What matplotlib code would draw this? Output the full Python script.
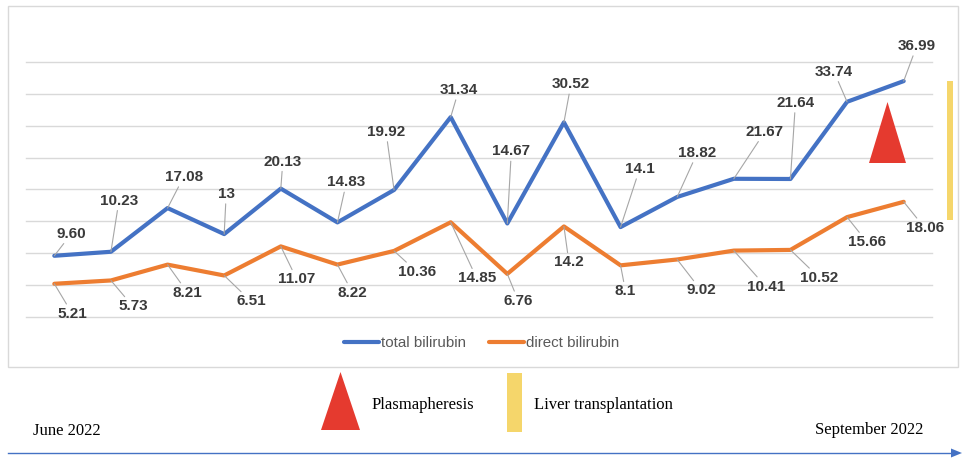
import matplotlib
matplotlib.use('Agg')
import matplotlib.pyplot as plt
from matplotlib.patches import Rectangle, Polygon

# values as printed on the chart (kept as text to keep the original formatting)
total_txt = ['9.60', '10.23', '17.08', '13', '20.13', '14.83', '19.92', '31.34',
             '14.67', '30.52', '14.1', '18.82', '21.67', '21.64', '33.74', '36.99']
direct_txt = ['5.21', '5.73', '8.21', '6.51', '11.07', '8.22', '10.36', '14.85',
              '6.76', '14.2', '8.1', '9.02', '10.41', '10.52', '15.66', '18.06']
total = [float(s) for s in total_txt]
direct = [float(s) for s in direct_txt]
series_names = ['total bilirubin', 'direct bilirubin']
start_label = 'June 2022'
end_label = 'September 2022'
event_names = ['Plasmapheresis', 'Liver transplantation']

# label offsets in pixels (dx, dy) from each point
total_off = [(17, 22), (8, 51), (16, 31), (2, 40), (2, 27), (9, 40), (-8, 58), (8, 27),
             (4, 72), (7, 38), (19, 58), (20, 44), (31, 47), (5, 76), (-13, 30), (13, 35)]
direct_off = [(18, -30), (22, -26), (20, -28), (27, -26), (16, -33), (15, -28), (23, -21), (26, -56),
              (11, -27), (5, -36), (5, -26), (24, -31), (32, -36), (29, -28), (20, -25), (21, -26)]

BLUE = '#4472C4'
ORANGE = '#ED7D31'
RED = '#E53A2F'
YELLOW = '#F5D66B'
W, H = 966, 466

def fx(px):
    return px / W

def fy(py):
    return 1 - py / H

fig = plt.figure(figsize=(9.66, 4.66), dpi=100)
ax = fig.add_axes([fx(26), fy(317), fx(932) - fx(26), fy(30) - fy(317)])

x = list(range(len(total)))
ax.set_xlim(-0.5, len(total) - 0.5)
ax.set_ylim(0, 45)
for g in range(0, 45, 5):
    ax.axhline(g, color='#D9D9D9', lw=1, zorder=0, clip_on=False)
for s in ax.spines.values():
    s.set_visible(False)
ax.set_xticks([])
ax.set_yticks([])
ax.patch.set_alpha(0)

ax.plot(x, total, color=BLUE, lw=3, solid_joinstyle='round', solid_capstyle='round',
        label=series_names[0], zorder=3)
ax.plot(x, direct, color=ORANGE, lw=3, solid_joinstyle='round', solid_capstyle='round',
        label=series_names[1], zorder=3)

for vals, txts, offs in [(total, total_txt, total_off), (direct, direct_txt, direct_off)]:
    for i, (v, t, o) in enumerate(zip(vals, txts, offs)):
        ax.annotate(t, (i, v), xytext=o, textcoords='offset pixels', ha='center', va='center',
                    fontsize=11, fontweight='bold', color='#3A3A3A', family='Liberation Sans',
                    arrowprops=dict(arrowstyle='-', color='#A6A6A6', lw=0.8, shrinkA=0, shrinkB=0),
                    zorder=4)

leg = ax.legend(loc='center', bbox_to_anchor=(0.503, -0.092), ncol=2, frameon=False,
                handlelength=2.3, handletextpad=0.15, columnspacing=1.5,
                prop={'family': 'Liberation Sans', 'size': 10.9})
for t in leg.get_texts():
    t.set_color('#595959')

# outer chart frame
fig.add_artist(Rectangle((fx(8), fy(367)), fx(958) - fx(8), fy(6) - fy(367),
                         transform=fig.transFigure, fill=False, edgecolor='#D9D9D9', lw=1))

# event markers inside the chart
fig.add_artist(Polygon([(fx(869), fy(163)), (fx(906), fy(163)), (fx(887.5), fy(102))],
                       closed=True, transform=fig.transFigure, facecolor=RED, edgecolor='none'))
fig.add_artist(Rectangle((fx(947), fy(220)), fx(953) - fx(947), fy(81) - fy(220),
                         transform=fig.transFigure, facecolor=YELLOW, edgecolor='none'))

# key below the chart
fig.add_artist(Polygon([(fx(321), fy(430)), (fx(360), fy(430)), (fx(340.5), fy(372))],
                       closed=True, transform=fig.transFigure, facecolor=RED, edgecolor='none'))
fig.text(fx(372), fy(405), event_names[0], family='Liberation Serif', fontsize=12,
         ha='left', va='center', color='black')
fig.add_artist(Rectangle((fx(507), fy(432)), fx(522) - fx(507), fy(373) - fy(432),
                         transform=fig.transFigure, facecolor=YELLOW, edgecolor='none'))
fig.text(fx(534), fy(405), event_names[1], family='Liberation Serif', fontsize=12,
         ha='left', va='center', color='black')

# time arrow
fig.text(fx(33), fy(431), start_label, family='Liberation Serif', fontsize=12,
         ha='left', va='center', color='black')
fig.text(fx(923), fy(430), end_label, family='Liberation Serif', fontsize=12,
         ha='right', va='center', color='black')
fig.add_artist(plt.Line2D([fx(8), fx(952)], [fy(453), fy(453)], transform=fig.transFigure,
                          color=BLUE, lw=1))
fig.add_artist(Polygon([(fx(951), fy(448.5)), (fx(951), fy(457.5)), (fx(962), fy(453))],
                       closed=True, transform=fig.transFigure, facecolor=BLUE, edgecolor='none'))

fig.savefig('out.png', dpi=100, facecolor='white')
